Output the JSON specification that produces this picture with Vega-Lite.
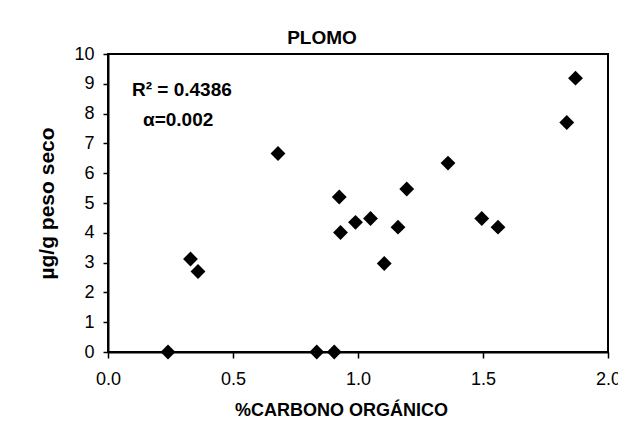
{
  "$schema": "https://vega.github.io/schema/vega-lite/v6.json",
  "autosize": {"type": "none"},
  "width": 500,
  "height": 298,
  "padding": {"left": 108, "top": 54, "right": 10, "bottom": 77},
  "background": "white",
  "config": {
    "font": "Liberation Sans",
    "view": {"stroke": "black", "strokeWidth": 2}
  },
  "title": {
    "text": "PLOMO",
    "font": "Liberation Sans",
    "fontSize": 19,
    "fontWeight": "bold",
    "color": "black",
    "anchor": "middle",
    "dx": -36,
    "dy": 30,
    "offset": 12,
    "baseline": "alphabetic"
  },
  "datasets": {
    "points": [
      {"carbono": 0.24, "plomo": 0.0},
      {"carbono": 0.33, "plomo": 3.12},
      {"carbono": 0.36, "plomo": 2.70},
      {"carbono": 0.68, "plomo": 6.66},
      {"carbono": 0.835, "plomo": 0.0},
      {"carbono": 0.905, "plomo": 0.0},
      {"carbono": 0.925, "plomo": 5.20},
      {"carbono": 0.93, "plomo": 4.01},
      {"carbono": 0.99, "plomo": 4.35},
      {"carbono": 1.05, "plomo": 4.48},
      {"carbono": 1.105, "plomo": 2.97},
      {"carbono": 1.16, "plomo": 4.19},
      {"carbono": 1.195, "plomo": 5.47},
      {"carbono": 1.36, "plomo": 6.34},
      {"carbono": 1.495, "plomo": 4.48},
      {"carbono": 1.56, "plomo": 4.19},
      {"carbono": 1.835, "plomo": 7.70},
      {"carbono": 1.87, "plomo": 9.19}
    ],
    "notes": [
      {"carbono": 0.096, "plomo": 8.79, "label": "R² = 0.4386"},
      {"carbono": 0.14, "plomo": 7.78, "label": "α=0.002"}
    ]
  },
  "encoding": {
    "x": {
      "field": "carbono", "type": "quantitative",
      "scale": {"domain": [0, 2], "nice": false, "zero": true},
      "axis": {
        "title": "%CARBONO ORGÁNICO",
        "values": [0, 0.5, 1, 1.5, 2],
        "format": ".1f",
        "grid": false,
        "domainColor": "black", "domainWidth": 2,
        "tickColor": "black", "tickSize": 6, "tickWidth": 1.5,
        "labelFont": "Liberation Sans", "labelFontSize": 18, "labelColor": "black",
        "labelPadding": 12, "labelFlush": false, "labelOverlap": false,
        "titleFont": "Liberation Sans", "titleFontSize": 18, "titleFontWeight": "bold", "titleColor": "black",
        "titleX": 233, "titleY": 58, "titleBaseline": "middle", "titleAlign": "center"
      }
    },
    "y": {
      "field": "plomo", "type": "quantitative",
      "scale": {"domain": [0, 10], "nice": false},
      "axis": {
        "title": "µg/g peso seco",
        "values": [0, 1, 2, 3, 4, 5, 6, 7, 8, 9, 10],
        "grid": false,
        "domainColor": "black", "domainWidth": 2,
        "tickColor": "black", "tickSize": 5, "tickWidth": 1.5,
        "labelFont": "Liberation Sans", "labelFontSize": 18, "labelColor": "black",
        "labelPadding": 9, "labelFlush": false, "labelOverlap": false,
        "titleFont": "Liberation Sans", "titleFontSize": 21, "titleFontWeight": "bold", "titleColor": "black",
        "titleX": -61, "titleY": 149, "titleAngle": -90, "titleBaseline": "middle", "titleAlign": "center"
      }
    }
  },
  "layer": [
    {
      "data": {"name": "points"},
      "mark": {"type": "point", "shape": "diamond", "filled": true, "color": "black", "size": 220, "opacity": 1}
    },
    {
      "data": {"name": "notes"},
      "mark": {"type": "text", "align": "left", "baseline": "middle", "font": "Liberation Sans", "fontSize": 19, "fontWeight": "bold", "color": "black"},
      "encoding": {
        "text": {"field": "label"}
      }
    }
  ]
}
